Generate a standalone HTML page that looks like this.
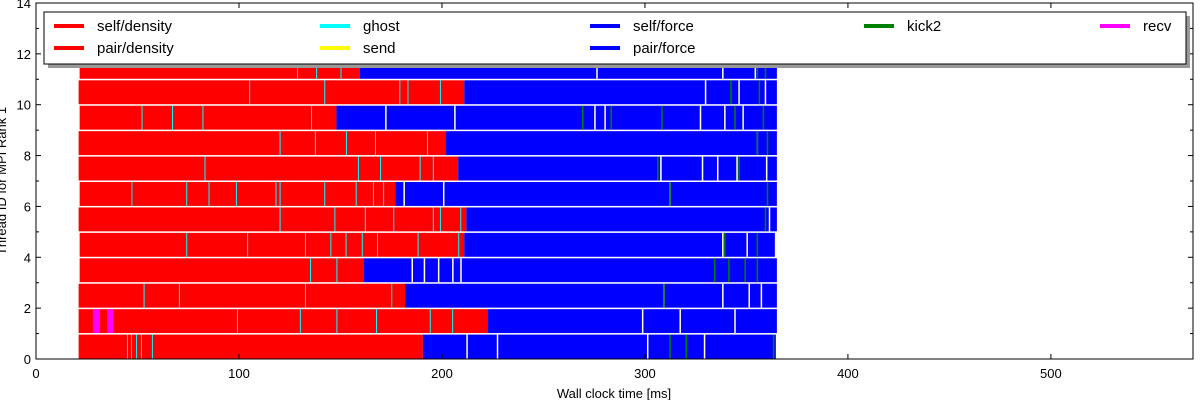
<!DOCTYPE html>
<html><head><meta charset="utf-8"><style>
body{margin:0;background:#fff;width:1200px;height:400px;overflow:hidden}
svg{font-family:"Liberation Sans",sans-serif}
</style></head><body>
<svg id="chart" width="1200" height="400">
<g id="marks"></g>
<g id="axes"></g>
</svg>
<script>
// per-thread data (ms)
const threads=[0,1,2,3,4,5,6,7,8,9,10,11];
const startT=[21,21,21,21.5,21.5,21,21.5,21,21,21.5,21,21.5];
const redEnd=[190.6,222.7,181.8,161.6,211,212,177,208,202,148,211,159.6];
const blueEnd=[364.5,365,365,365,364,365,365,365,365,365,365,365];
const redBounds=[[44.8,46.8,49.3,51.7,57.1],[99,130,148,167.5,194,205],[53,70.4,132.5,175],[135,148],[74,104,132.5,145,152.5,160.5,168,188,208],[120,147,162,176,195.5,199,209],[47,74,85,98.5,118,120,142,157.5,166,171],[83,158.6,169.5,189,195.5],[120,137.4,152.7,167,192.6],[52,67,82,135.5],[105,142,179,183,199],[128.6,138,150]];
const blueBounds=[[212,227,301,329],[298.5,317,344],[309,338,351,357],[185,191,198,205,209],[338,350],[361],[181,200.5,312],[307.5,328,335.5,345,359.6],[355],[172,206,275,280,327,339,348],[329.5,346,359],[276,338,354]];
const greens=[[312,320,363],[],[309],[334,341,349,355],[339,355],[359],[312,360],[306,346],[355,360],[269,283,308,344,358],[342,356],[355,359]];
const recvSpans=[[],[[28,31.5],[35,38]],[],[],[],[],[],[],[],[],[],[]];
const xTicks=[0,100,200,300,400,500];
const yTicks=[0,2,4,6,8,10,12,14];
const xMax=570,yMax=14;
const L=36,R=1193,T=3,B=359;
const X=v=>L+v/xMax*(R-L), Y=v=>B-v/yMax*(B-T);
const NS="http://www.w3.org/2000/svg";
const marks=document.getElementById('marks'),axes=document.getElementById('axes');
function mk(p,tag,at){const e=document.createElementNS(NS,tag);for(const k in at)e.setAttribute(k,at[k]);p.appendChild(e);return e;}
threads.forEach((t,i)=>{
 const y0=Y(t+0.96),y1=Y(t+0.02),h=y1-y0;
 let r=mk(marks,'rect',{x:X(startT[i]),y:y0,width:X(redEnd[i])-X(startT[i]),height:h,fill:'#ff0000'});
 
 
 let b=mk(marks,'rect',{x:X(redEnd[i]),y:y0,width:X(blueEnd[i])-X(redEnd[i]),height:h,fill:'#0000ff'});
 
 
 redBounds[i].forEach(v=>{let l=mk(marks,'rect',{x:X(v),y:y0,width:1,height:h,fill:'#00ffff'});
  
  });
 blueBounds[i].forEach(v=>{let l=mk(marks,'rect',{x:X(v),y:y0,width:1.5,height:h,fill:'#ffffff'});
  
  });
 greens[i].forEach(v=>{let l=mk(marks,'rect',{x:X(v),y:y0,width:1.5,height:h,fill:'#008000'});
  
  });
 recvSpans[i].forEach(s=>{let l=mk(marks,'rect',{x:X(s[0]),y:y0,width:X(s[1])-X(s[0]),height:h,fill:'#ff00ff'});
  
  });
});
let fr=mk(axes,'rect',{x:L,y:T,width:R-L,height:B-T,fill:'none',stroke:'#000','stroke-width':1});


xTicks.forEach(v=>{mk(axes,'line',{x1:X(v),x2:X(v),y1:B,y2:B-5,stroke:'#000'});mk(axes,'line',{x1:X(v),x2:X(v),y1:T,y2:T+5,stroke:'#000'});
 let tx=mk(axes,'text',{x:X(v),y:378,'text-anchor':'middle','font-size':13});tx.textContent=v;
 
 });
for(let v=1;v<14;v+=2){mk(axes,'line',{x1:L,x2:L+3,y1:Y(v),y2:Y(v),stroke:'#000'});mk(axes,'line',{x1:R,x2:R-3,y1:Y(v),y2:Y(v),stroke:'#000'});}
yTicks.forEach(v=>{mk(axes,'line',{x1:L,x2:L+5,y1:Y(v),y2:Y(v),stroke:'#000'});mk(axes,'line',{x1:R,x2:R-5,y1:Y(v),y2:Y(v),stroke:'#000'});
 let tx=mk(axes,'text',{x:L-5,y:Y(v)+5,'text-anchor':'end','font-size':13});tx.textContent=v;
 
 });
let xl=mk(axes,'text',{x:614,y:398,'text-anchor':'middle','font-size':13});xl.textContent='Wall clock time [ms]';


let yl=mk(axes,'text',{x:0,y:0,'text-anchor':'middle','font-size':13,transform:'translate(6,181) rotate(-90)'});yl.textContent='Thread ID for MPI Rank 1';


// legend
const lg=mk(axes,'g',{});


mk(lg,'rect',{x:48,y:16,width:1142,height:52,fill:'#999'});
mk(lg,'rect',{x:44,y:12,width:1142,height:52,fill:'#fff',stroke:'#000'});
const entries=[['self/density','#ff0000',54,26],['pair/density','#ff0000',54,48],['ghost','#00ffff',320,26],['send','#ffff00',320,48],['self/force','#0000ff',590,26],['pair/force','#0000ff',590,48],['kick2','#008000',864,26],['recv','#ff00ff',1100,26]];
entries.forEach(e=>{const g=mk(lg,'g',{});
 
 
 mk(g,'line',{x1:e[2],x2:e[2]+30,y1:e[3],y2:e[3],stroke:e[1],'stroke-width':4});
 const t=mk(g,'text',{x:e[2]+43,y:e[3]+5,'font-size':15});t.textContent=e[0];});
</script>
</body></html>
